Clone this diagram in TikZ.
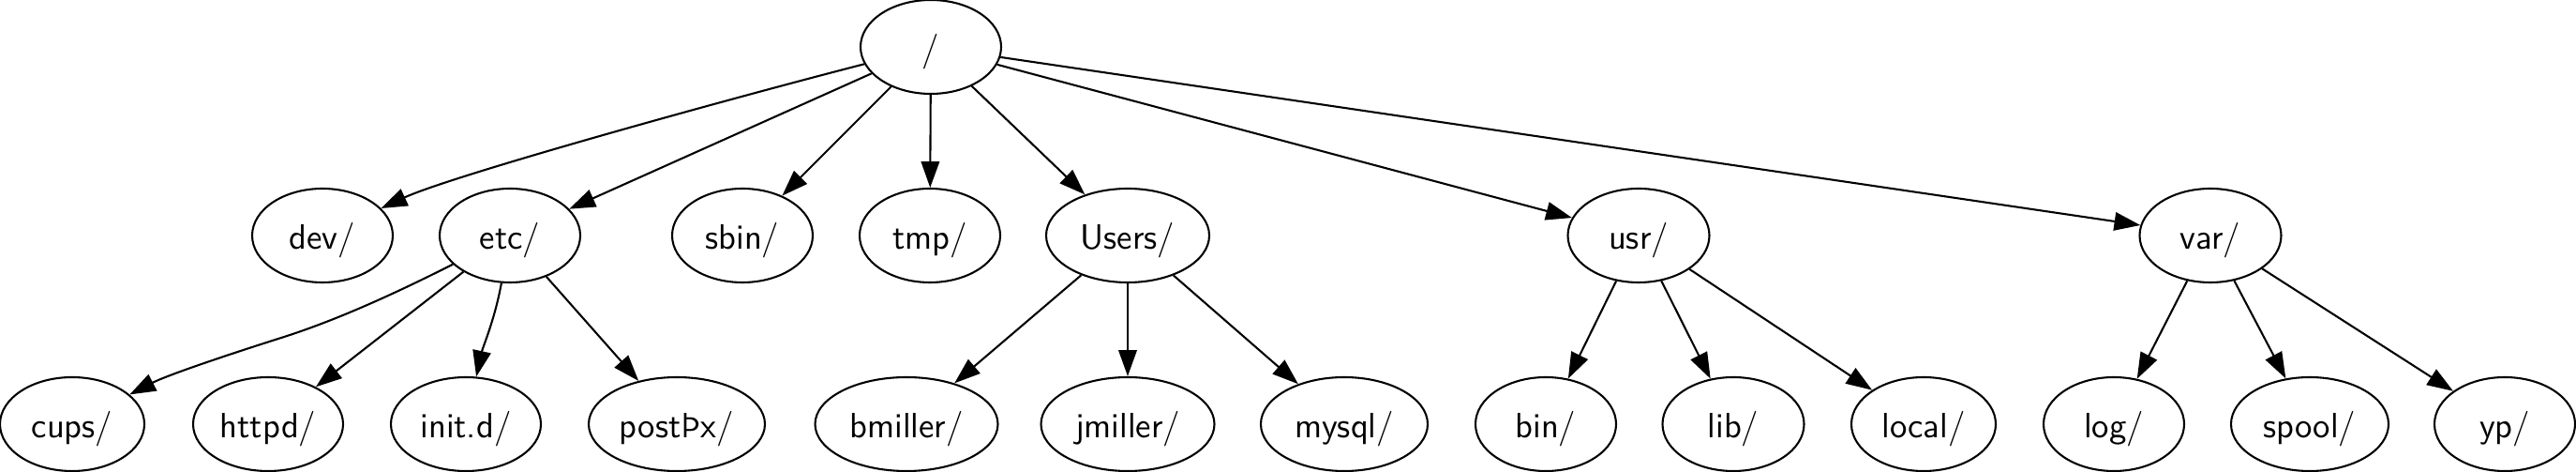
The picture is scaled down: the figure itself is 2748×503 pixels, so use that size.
\documentclass[tikz,border=0pt]{standalone}
\usepackage{fontspec}
\usetikzlibrary{arrows.meta,shapes.geometric}
\begin{document}
\begin{tikzpicture}[x=0.36pt,y=-0.36pt,
  dir/.style={ellipse,draw=black,line width=0.75pt,inner sep=0pt,minimum height=36pt,
    font=\sffamily\fontsize{13.5}{16}\selectfont,text height=13.7pt,text depth=3.4pt},
  edge/.style={line width=0.75pt,draw=black,-{Triangle[length=10pt,width=7pt]}}]
\useasboundingbox (0,0) rectangle (2748,503);
% level 0
\node[dir,minimum width=54pt] (root) at (993,50) {/};
% level 1
\node[dir,minimum width=54pt] (dev) at (344,251) {dev/};
\node[dir,minimum width=54pt] (etc) at (544,251) {etc/};
\node[dir,minimum width=54pt] (sbin) at (792,251) {sbin/};
\node[dir,minimum width=54pt] (tmp) at (992,251) {tmp/};
\node[dir,minimum width=62.64pt] (users) at (1203,251) {Users/};
\node[dir,minimum width=54.36pt] (usr) at (1748,251) {usr/};
\node[dir,minimum width=54.36pt] (var) at (2358,251) {var/};
% level 2
\node[dir,minimum width=55.44pt] (cups) at (77,452) {cups/};
\node[dir,minimum width=57.6pt] (httpd) at (286,452) {httpd/};
\node[dir,minimum width=57.6pt] (initd) at (497,452) {init.d/};
\node[dir,minimum width=67.68pt] (postfix) at (722,452) {postÞx/};
\node[dir,minimum width=70.2pt] (bmiller) at (967,452) {bmiller/};
\node[dir,minimum width=66.6pt] (jmiller) at (1203,452) {jmiller/};
\node[dir,minimum width=64.08pt] (mysql) at (1434,452) {mysql/};
\node[dir,minimum width=54pt] (bin) at (1649,452) {bin/};
\node[dir,minimum width=54.36pt] (lib) at (1849,452) {lib/};
\node[dir,minimum width=55.44pt] (local) at (2052,452) {local/};
\node[dir,minimum width=54pt] (log) at (2255,452) {log/};
\node[dir,minimum width=60.48pt] (spool) at (2464,452) {spool/};
\node[dir,minimum width=54pt] (yp) at (2672,452) {yp/};
% edges from root
\draw[edge] (root) .. controls (760,110) and (480,188) .. (dev);
\draw[edge] (root) -- (etc);
\draw[edge] (root) -- (sbin);
\draw[edge] (root) -- (tmp);
\draw[edge] (root) -- (users);
\draw[edge] (root) -- (usr);
\draw[edge] (root) -- (var);
% edges from etc
\coordinate (m1) at (300,360);
\draw[edge] (etc) .. controls (423,312) and (360,341) .. (m1) .. controls (240,379) and (178,400) .. (cups);
\draw[edge] (etc) -- (httpd);
\draw[edge] (etc) .. controls (528,340) and (515,370) .. (initd);
\draw[edge] (etc) -- (postfix);
% edges from Users
\draw[edge] (users) -- (bmiller);
\draw[edge] (users) -- (jmiller);
\draw[edge] (users) -- (mysql);
% edges from usr
\draw[edge] (usr) -- (bin);
\draw[edge] (usr) -- (lib);
\draw[edge] (usr) -- (local);
% edges from var
\draw[edge] (var) -- (log);
\draw[edge] (var) -- (spool);
\draw[edge] (var) -- (yp);
\end{tikzpicture}
\end{document}
